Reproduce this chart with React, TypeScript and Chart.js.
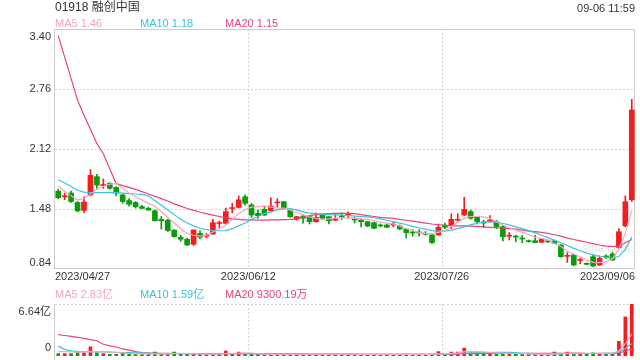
import { useEffect, useRef } from 'react';
import { Chart, registerables } from 'chart.js';

Chart.register(...registerables);

const FONT = "'Liberation Sans', Arial, 'Noto Sans CJK SC', sans-serif";
const RED = '#f31d1d';
const GREEN = '#0a9c0a';
const C5 = '#f9a3c0';
const C10 = '#3cc2dc';
const C20 = '#e9437c';
const TXT = '#333333';
const FRAME = '#cccccc';
const GRID = '#d4d4d4';

const titleText = '01918 融创中国';
const timeText = '09-06 11:59';
const maNames = ['MA5', 'MA10', 'MA20'];
const maLast = ['1.46', '1.18', '1.15'];
const volMaLast = ['2.83亿', '1.59亿', '9300.19万'];
const priceTicks = [3.40, 2.76, 2.12, 1.48, 0.84];
const priceTickText = ['3.40', '2.76', '2.12', '1.48', '0.84'];
const volMax = 6.64;
const volTickText = ['6.64亿', '0'];
const dateLabels = ['2023/04/27', '2023/06/12', '2023/07/26', '2023/09/06'];
const dateIndex = [0, 30, 60, 89];

const opens = [
  1.67, 1.61, 1.65, 1.55, 1.465, 1.63, 1.825, 1.73, 1.755, 1.71,
  1.63, 1.57, 1.55, 1.505, 1.487, 1.46, 1.37, 1.36, 1.255, 1.178,
  1.157, 1.104, 1.22, 1.19, 1.213, 1.325, 1.327, 1.485, 1.497, 1.61,
  1.523, 1.434, 1.476, 1.462, 1.545, 1.558, 1.469, 1.37, 1.405, 1.398,
  1.345, 1.416, 1.398, 1.36, 1.405, 1.42, 1.38, 1.363, 1.345, 1.334,
  1.309, 1.309, 1.309, 1.299, 1.267, 1.23, 1.23, 1.22, 1.203, 1.203,
  1.309, 1.309, 1.36, 1.416, 1.452, 1.398, 1.335, 1.345, 1.345, 1.292,
  1.19, 1.185, 1.165, 1.139, 1.142, 1.125, 1.135, 1.139, 1.096, 0.975,
  0.99, 0.93, 0.895, 0.971, 0.883, 0.973, 1.0, 1.07, 1.3, 1.578,
];
const highs = [
  1.69, 1.65, 1.67, 1.56, 1.61, 1.9, 1.85, 1.8, 1.76, 1.72,
  1.64, 1.59, 1.56, 1.52, 1.5, 1.47, 1.4, 1.37, 1.26, 1.2,
  1.17, 1.26, 1.25, 1.22, 1.37, 1.35, 1.49, 1.54, 1.62, 1.63,
  1.54, 1.47, 1.51, 1.6, 1.59, 1.56, 1.47, 1.4, 1.41, 1.4,
  1.44, 1.42, 1.4, 1.42, 1.44, 1.45, 1.39, 1.37, 1.35, 1.34,
  1.32, 1.32, 1.34, 1.31, 1.27, 1.26, 1.26, 1.24, 1.21, 1.32,
  1.33, 1.43, 1.43, 1.605, 1.47, 1.4, 1.36, 1.41, 1.36, 1.3,
  1.23, 1.2, 1.2, 1.15, 1.2, 1.16, 1.14, 1.15, 1.1, 1.015,
  0.995, 0.955, 0.905, 0.99, 0.98, 0.99, 1.02, 1.27, 1.62, 2.65,
];
const lows = [
  1.59, 1.58, 1.55, 1.45, 1.44, 1.62, 1.7, 1.7, 1.69, 1.62,
  1.54, 1.51, 1.49, 1.48, 1.465, 1.35, 1.265, 1.24, 1.18, 1.135,
  1.09, 1.09, 1.16, 1.17, 1.21, 1.28, 1.32, 1.44, 1.49, 1.52,
  1.39, 1.38, 1.41, 1.45, 1.5, 1.48, 1.39, 1.36, 1.33, 1.32,
  1.34, 1.37, 1.32, 1.355, 1.37, 1.38, 1.33, 1.29, 1.29, 1.27,
  1.29, 1.28, 1.29, 1.26, 1.17, 1.19, 1.19, 1.2, 1.11, 1.2,
  1.27, 1.27, 1.35, 1.41, 1.37, 1.32, 1.28, 1.34, 1.27, 1.14,
  1.15, 1.13, 1.12, 1.125, 1.12, 1.12, 1.12, 1.11, 0.965, 0.91,
  0.875, 0.895, 0.885, 0.865, 0.875, 0.95, 0.93, 1.06, 1.29, 1.56,
];
const closes = [
  1.6, 1.62, 1.56, 1.46, 1.555, 1.84, 1.735, 1.74, 1.7, 1.65,
  1.56, 1.53, 1.505, 1.487, 1.47, 1.355, 1.355, 1.25, 1.185, 1.157,
  1.096, 1.256, 1.178, 1.195, 1.334, 1.33, 1.452, 1.49, 1.578, 1.54,
  1.416, 1.409, 1.416, 1.512, 1.55, 1.487, 1.398, 1.398, 1.381, 1.345,
  1.391, 1.381, 1.355, 1.37, 1.395, 1.425, 1.363, 1.345, 1.299, 1.274,
  1.299, 1.285, 1.316, 1.267, 1.227, 1.225, 1.225, 1.21, 1.122, 1.285,
  1.285, 1.37, 1.365, 1.476, 1.381, 1.345, 1.33, 1.363, 1.292, 1.185,
  1.195, 1.18, 1.16, 1.132, 1.122, 1.157, 1.13, 1.114, 0.971, 0.98,
  0.883, 0.935, 0.89, 0.872, 0.954, 0.968, 0.936, 1.238, 1.558, 2.536,
];
const ma5 = [
  1.72, 1.67, 1.62, 1.575, 1.59, 1.64, 1.69, 1.72, 1.745, 1.75,
  1.7, 1.65, 1.61, 1.575, 1.54, 1.51, 1.45, 1.39, 1.33, 1.27,
  1.22, 1.2, 1.19, 1.2, 1.235, 1.27, 1.31, 1.37, 1.43, 1.475,
  1.5, 1.505, 1.51, 1.5, 1.49, 1.49, 1.47, 1.44, 1.42, 1.395,
  1.38, 1.37, 1.375, 1.385, 1.385, 1.385, 1.38, 1.375, 1.37, 1.355,
  1.34, 1.33, 1.32, 1.3, 1.27, 1.25, 1.23, 1.22, 1.215, 1.23,
  1.25, 1.29, 1.34, 1.38, 1.4, 1.4, 1.395, 1.38, 1.345, 1.31,
  1.28, 1.255, 1.23, 1.205, 1.18, 1.165, 1.15, 1.11, 1.08, 1.03,
  1.0, 0.97, 0.935, 0.91, 0.908, 0.915, 0.95, 1.05, 1.22, 1.46,
];
const ma10 = [
  1.79, 1.76, 1.72, 1.68, 1.66, 1.655, 1.655, 1.655, 1.655, 1.655,
  1.65, 1.645, 1.64, 1.635, 1.62, 1.57, 1.52, 1.47, 1.42, 1.37,
  1.33, 1.3, 1.275, 1.26, 1.25, 1.248, 1.25, 1.27, 1.3, 1.33,
  1.37, 1.4, 1.43, 1.45, 1.47, 1.48, 1.485, 1.47, 1.45, 1.435,
  1.43, 1.425, 1.42, 1.418, 1.416, 1.41, 1.405, 1.4, 1.395, 1.39,
  1.375, 1.36, 1.345, 1.33, 1.315, 1.295, 1.28, 1.265, 1.25, 1.245,
  1.245, 1.255, 1.27, 1.29, 1.31, 1.33, 1.34, 1.345, 1.34, 1.325,
  1.31, 1.29, 1.27, 1.25, 1.225, 1.2, 1.175, 1.145, 1.12, 1.09,
  1.06, 1.035, 1.01, 0.99, 0.975, 0.965, 0.955, 0.975, 1.05, 1.18,
];
const ma20 = [
  3.33, 3.1, 2.87, 2.64, 2.48, 2.33, 2.18, 2.07, 1.91, 1.75,
  1.73, 1.71, 1.69, 1.665, 1.64, 1.615, 1.59, 1.565, 1.535, 1.51,
  1.485, 1.465, 1.445, 1.43, 1.415, 1.4, 1.385, 1.375, 1.37, 1.365,
  1.363, 1.362, 1.362, 1.363, 1.365, 1.367, 1.37, 1.375, 1.39, 1.41,
  1.42, 1.428, 1.432, 1.434, 1.434, 1.433, 1.43, 1.42, 1.41, 1.4,
  1.39, 1.385, 1.38, 1.37, 1.36, 1.35, 1.34, 1.33, 1.32, 1.312,
  1.305, 1.3, 1.3, 1.3, 1.298, 1.295, 1.29, 1.285, 1.28, 1.275,
  1.27, 1.265, 1.255, 1.245, 1.238, 1.23, 1.22, 1.205, 1.19, 1.17,
  1.155, 1.14, 1.125, 1.11, 1.096, 1.085, 1.078, 1.085, 1.12, 1.155,
];
// volume, in 亿 shares
const volumes = [
  0.3, 0.3, 0.3, 0.5, 0.4, 1.17, 0.4, 0.3, 0.22, 0.22,
  0.4, 0.25, 0.22, 0.2, 0.22, 0.5, 0.25, 0.22, 0.5, 0.22,
  0.25, 0.3, 0.2, 0.2, 0.25, 0.22, 0.65, 0.25, 0.5, 0.3,
  0.22, 0.22, 0.2, 0.25, 0.2, 0.22, 0.25, 0.2, 0.2, 0.2,
  0.22, 0.2, 0.2, 0.18, 0.2, 0.22, 0.2, 0.18, 0.2, 0.2,
  0.18, 0.2, 0.18, 0.2, 0.25, 0.18, 0.18, 0.2, 0.25, 0.56,
  0.25, 0.5, 0.5, 1.0, 0.4, 0.45, 0.25, 0.3, 0.4, 0.45,
  0.25, 0.22, 0.22, 0.2, 0.25, 0.22, 0.2, 0.5, 0.3, 0.5,
  0.35, 0.3, 0.3, 0.4, 0.35, 0.33, 0.33, 1.86, 4.99, 6.64,
];
const volMa5 = [
  0.56, 0.55, 0.52, 0.5, 0.5, 0.55, 0.55, 0.55, 0.5, 0.45,
  0.4, 0.32, 0.28, 0.26, 0.26, 0.28, 0.28, 0.28, 0.32, 0.33,
  0.3, 0.3, 0.28, 0.25, 0.24, 0.24, 0.32, 0.32, 0.38, 0.4,
  0.38, 0.3, 0.25, 0.22, 0.22, 0.22, 0.22, 0.21, 0.21, 0.21,
  0.21, 0.21, 0.21, 0.21, 0.21, 0.21, 0.21, 0.21, 0.21, 0.21,
  0.21, 0.21, 0.21, 0.21, 0.21, 0.21, 0.21, 0.21, 0.21, 0.27,
  0.28, 0.34, 0.4, 0.55, 0.55, 0.57, 0.52, 0.47, 0.37, 0.37,
  0.33, 0.32, 0.3, 0.27, 0.23, 0.22, 0.22, 0.28, 0.29, 0.34,
  0.37, 0.39, 0.35, 0.35, 0.34, 0.34, 0.34, 0.65, 1.57, 2.83,
];
const volMa10 = [
  1.26, 0.85, 0.65, 0.58, 0.55, 0.53, 0.52, 0.52, 0.5, 0.48,
  0.45, 0.43, 0.4, 0.38, 0.36, 0.33, 0.3, 0.3, 0.3, 0.3,
  0.29, 0.29, 0.29, 0.28, 0.28, 0.28, 0.3, 0.3, 0.31, 0.31,
  0.3, 0.3, 0.29, 0.28, 0.27, 0.27, 0.24, 0.23, 0.22, 0.22,
  0.21, 0.21, 0.21, 0.21, 0.21, 0.21, 0.21, 0.21, 0.21, 0.21,
  0.21, 0.21, 0.21, 0.21, 0.21, 0.21, 0.21, 0.21, 0.21, 0.24,
  0.25, 0.27, 0.3, 0.38, 0.4, 0.43, 0.43, 0.44, 0.46, 0.48,
  0.46, 0.43, 0.35, 0.34, 0.3, 0.3, 0.28, 0.3, 0.28, 0.31,
  0.3, 0.31, 0.32, 0.34, 0.35, 0.37, 0.36, 0.5, 0.96, 1.59,
];
const volMa20 = [
  2.73, 2.62, 2.5, 2.39, 2.25, 2.1, 1.95, 1.5, 1.3, 1.15,
  0.9, 0.75, 0.55, 0.45, 0.4, 0.37, 0.35, 0.34, 0.33, 0.32,
  0.31, 0.3, 0.3, 0.29, 0.29, 0.29, 0.29, 0.29, 0.3, 0.3,
  0.29, 0.28, 0.28, 0.28, 0.27, 0.27, 0.26, 0.26, 0.26, 0.25,
  0.25, 0.24, 0.24, 0.23, 0.23, 0.23, 0.23, 0.22, 0.22, 0.22,
  0.22, 0.22, 0.22, 0.22, 0.22, 0.22, 0.22, 0.22, 0.22, 0.23,
  0.23, 0.24, 0.25, 0.29, 0.3, 0.31, 0.32, 0.32, 0.34, 0.35,
  0.35, 0.35, 0.35, 0.35, 0.35, 0.35, 0.35, 0.36, 0.35, 0.36,
  0.36, 0.35, 0.32, 0.32, 0.3, 0.3, 0.3, 0.38, 0.62, 0.93,
];

function legendRow(ctx: CanvasRenderingContext2D, y: number, values: string[]) {
  const xs = [55, 140, 225];
  const cols = [C5, C10, C20];
  ctx.font = `11px ${FONT}`;
  ctx.textBaseline = 'middle';
  ctx.textAlign = 'left';
  maNames.forEach((n, i) => {
    ctx.fillStyle = cols[i];
    ctx.fillText(`${n} ${values[i]}`, xs[i], y);
  });
}

function vLines(chart: any, top: number, bottom: number) {
  const x = chart.scales.x;
  const a = chart.chartArea;
  const slot = a.width / closes.length;
  const ctx = chart.ctx;
  dateIndex.forEach((idx) => {
    if (idx <= 0 || idx >= closes.length - 1) return;
    const px = Math.round(x.getPixelForValue(idx) - slot / 2) + 0.5;
    ctx.beginPath();
    ctx.moveTo(px, top);
    ctx.lineTo(px, bottom);
    ctx.stroke();
  });
}

const mainDecor = {
  id: 'mainDecor',
  beforeDatasetsDraw(chart: any) {
    const { ctx, chartArea: a, scales } = chart;
    ctx.save();
    ctx.lineWidth = 1;
    ctx.strokeStyle = GRID;
    ctx.setLineDash([2, 2]);
    priceTicks.forEach((v, i) => {
      if (i === 0 || i === priceTicks.length - 1) return;
      const py = Math.round(scales.y.getPixelForValue(v)) + 0.5;
      ctx.beginPath();
      ctx.moveTo(a.left, py);
      ctx.lineTo(a.right, py);
      ctx.stroke();
    });
    vLines(chart, a.top, a.bottom);
    ctx.setLineDash([]);
    ctx.strokeStyle = FRAME;
    ctx.strokeRect(a.left - 0.5, a.top + 0.5, a.width, a.height - 1);
    ctx.fillStyle = 'rgba(0,0,0,0.13)';
    ctx.font = `12px ${FONT}`;
    ctx.textAlign = 'left';
    ctx.textBaseline = 'middle';
    ctx.fillText('sina.com', 582, 249);
    ctx.restore();
  },
  afterDraw(chart: any) {
    const { ctx, chartArea: a, scales } = chart;
    ctx.save();
    ctx.fillStyle = TXT;
    ctx.font = `12px ${FONT}`;
    ctx.textAlign = 'left';
    ctx.textBaseline = 'middle';
    ctx.fillText(titleText, 55, 8);
    ctx.font = `11px ${FONT}`;
    ctx.textAlign = 'right';
    ctx.fillText(timeText, 635, 9);
    legendRow(ctx, 24, maLast);
    ctx.fillStyle = TXT;
    ctx.font = `11px ${FONT}`;
    ctx.textAlign = 'right';
    priceTicks.forEach((v, i) => {
      let py = scales.y.getPixelForValue(v);
      if (i === 0) { ctx.textBaseline = 'top'; py = a.top + 2; }
      else if (i === priceTicks.length - 1) { ctx.textBaseline = 'bottom'; py = a.bottom - 1; }
      else ctx.textBaseline = 'middle';
      ctx.fillText(priceTickText[i], 51, py);
    });
    const slot = a.width / closes.length;
    ctx.textBaseline = 'middle';
    dateIndex.forEach((idx, i) => {
      let px = scales.x.getPixelForValue(idx) - slot / 2;
      if (i === 0) { ctx.textAlign = 'left'; px = a.left; }
      else if (i === dateIndex.length - 1) { ctx.textAlign = 'right'; px = a.right; }
      else ctx.textAlign = 'center';
      ctx.fillText(dateLabels[i], px, a.bottom + 8);
    });
    ctx.restore();
  },
};

const volDecor = {
  id: 'volDecor',
  beforeDatasetsDraw(chart: any) {
    const { ctx, chartArea: a } = chart;
    ctx.save();
    ctx.lineWidth = 1;
    ctx.strokeStyle = GRID;
    ctx.setLineDash([2, 2]);
    ctx.beginPath();
    ctx.moveTo(a.left, a.top + 0.5);
    ctx.lineTo(a.right, a.top + 0.5);
    ctx.stroke();
    vLines(chart, a.top, chart.height);
    ctx.setLineDash([]);
    ctx.strokeStyle = FRAME;
    ctx.beginPath();
    ctx.moveTo(a.left - 0.5, a.top);
    ctx.lineTo(a.left - 0.5, chart.height);
    ctx.stroke();
    ctx.restore();
  },
  afterDraw(chart: any) {
    const { ctx, chartArea: a } = chart;
    ctx.save();
    legendRow(ctx, 10, volMaLast);
    ctx.fillStyle = TXT;
    ctx.font = `11px ${FONT}`;
    ctx.textAlign = 'right';
    ctx.textBaseline = 'top';
    ctx.fillText(volTickText[0], 51, a.top + 2);
    ctx.textBaseline = 'bottom';
    ctx.fillText(volTickText[1], 51, a.bottom - 3);
    ctx.restore();
  },
};

function lineDs(label: string, data: number[], color: string) {
  return {
    type: 'line' as const,
    label,
    data,
    borderColor: color,
    borderWidth: 1.2,
    pointRadius: 0,
    fill: false,
    tension: 0,
    order: 0,
  };
}

export default function App() {
  const mainRef = useRef<HTMLCanvasElement>(null);
  const volRef = useRef<HTMLCanvasElement>(null);

  useEffect(() => {
    const labels = closes.map((_, i) => String(i));
    const colors = closes.map((c, i) => (c >= opens[i] ? RED : GREEN));
    const main = new Chart(mainRef.current as HTMLCanvasElement, {
      type: 'bar',
      data: {
        labels,
        datasets: [
          lineDs('MA5', ma5, C5),
          lineDs('MA10', ma10, C10),
          lineDs('MA20', ma20, C20),
          {
            type: 'bar',
            label: 'body',
            data: opens.map((o, i) => [o, closes[i]]),
            backgroundColor: colors,
            barThickness: 5,
            minBarLength: 1,
            grouped: false,
            order: 1,
          },
          {
            type: 'bar',
            label: 'wick',
            data: lows.map((l, i) => [l, highs[i]]),
            backgroundColor: colors,
            barThickness: 1,
            grouped: false,
            order: 2,
          },
        ] as any,
      },
      options: {
        responsive: false,
        animation: false,
        events: [],
        layout: { padding: { left: 55, right: 5, top: 29, bottom: 21 } },
        plugins: { legend: { display: false }, tooltip: { enabled: false } },
        scales: {
          x: { display: false, offset: true },
          y: { display: false, min: priceTicks[priceTicks.length - 1], max: priceTicks[0] },
        },
      },
      plugins: [mainDecor],
    });

    const vol = new Chart(volRef.current as HTMLCanvasElement, {
      type: 'bar',
      data: {
        labels,
        datasets: [
          lineDs('MA5', volMa5, C5),
          lineDs('MA10', volMa10, C10),
          lineDs('MA20', volMa20, C20),
          {
            type: 'bar',
            label: 'vol',
            data: volumes,
            backgroundColor: colors,
            barThickness: 3,
            minBarLength: 1,
            grouped: false,
            order: 1,
          },
        ] as any,
      },
      options: {
        responsive: false,
        animation: false,
        events: [],
        layout: { padding: { left: 55, right: 5, top: 19, bottom: 4 } },
        plugins: { legend: { display: false }, tooltip: { enabled: false } },
        scales: {
          x: { display: false, offset: true },
          y: { display: false, min: 0, max: volMax },
        },
      },
      plugins: [volDecor],
    });

    return () => {
      main.destroy();
      vol.destroy();
    };
  }, []);

  return (
    <div style={{ position: 'fixed', left: 0, top: 0, width: 640, height: 360, background: '#fff' }}>
      <canvas ref={mainRef} width={640} height={290} style={{ position: 'absolute', left: 0, top: 0, width: 640, height: 290 }} />
      <canvas ref={volRef} width={640} height={75} style={{ position: 'absolute', left: 0, top: 285, width: 640, height: 75 }} />
    </div>
  );
}
